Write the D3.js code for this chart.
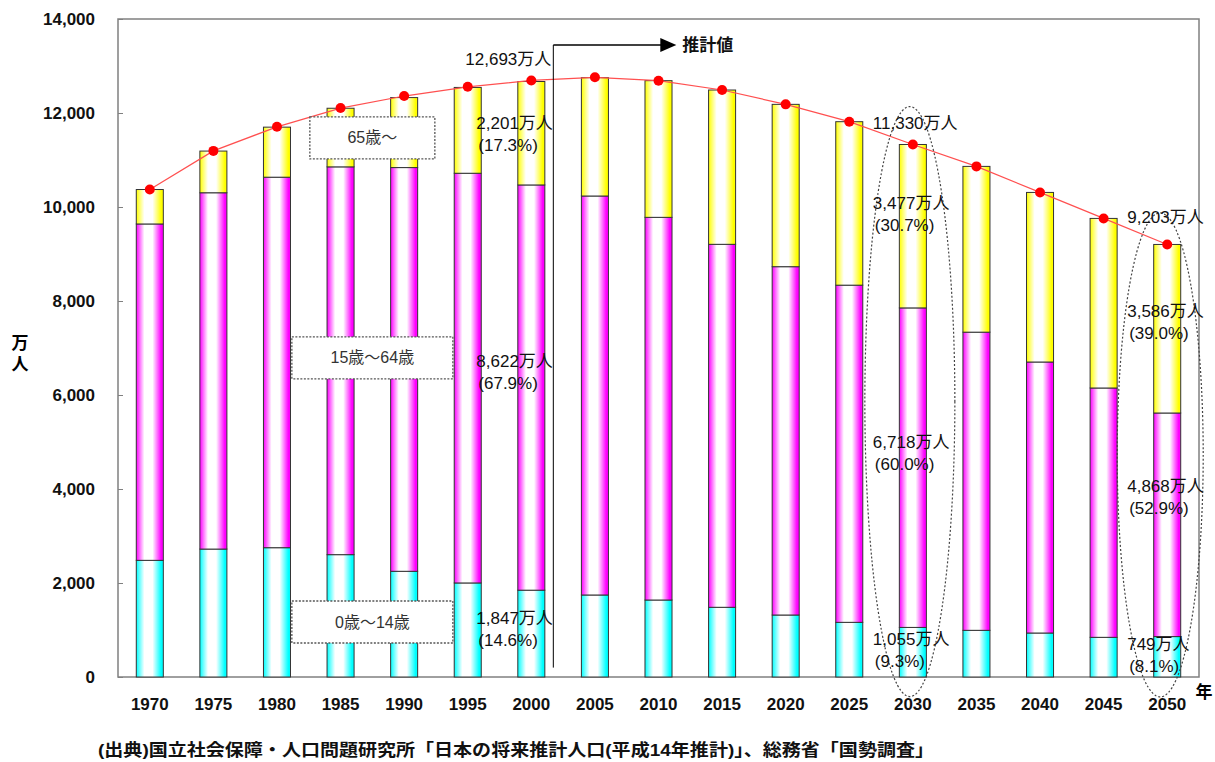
<!DOCTYPE html>
<html lang="ja">
<head>
<meta charset="UTF-8">
<title>日本の人口の推移</title>
<script src="https://d3js.org/d3.v7.min.js"></script>
<style>
  body { margin: 0; background: #fff; }
  svg { font-family: "Liberation Sans", Arial, "Noto Sans CJK JP", sans-serif; }
  .tick text { font-size: 17px; font-weight: bold; fill: #111; }
  .lbl { font-size: 17px; fill: #111; }
  .legend-text { font-size: 16px; fill: #333; }
</style>
</head>
<body>
<svg id="chart" width="1215" height="762"></svg>
<script>
// years (1970-2000 census, 2005- projection)
var years = ["1970", "1975", "1980", "1985", "1990", "1995", "2000", "2005", "2010",
             "2015", "2020", "2025", "2030", "2035", "2040", "2045", "2050"];
// 万人
var age0to14  = [2482, 2722, 2751, 2603, 2249, 2001, 1847, 1745, 1638, 1483, 1319, 1163, 1055, 993, 936, 844, 860];
var age15to64 = [7157, 7581, 7883, 8251, 8590, 8717, 8622, 8489, 8142, 7723, 7411, 7174, 6798, 6344, 5766, 5305, 4757];
var age65plus = [733, 887, 1065, 1247, 1489, 1826, 2201, 2518, 2908, 3283, 3454, 3478, 3477, 3527, 3608, 3608, 3586];
var totalPop  = [10372, 11194, 11706, 12105, 12361, 12557, 12693, 12760, 12688, 12489, 12184, 11815, 11330, 10864, 10310, 9757, 9203];
var yTicks = [0, 2000, 4000, 6000, 8000, 10000, 12000, 14000];

var seriesKeys = ["age0to14", "age15to64", "age65plus"];
var seriesColors = ["#00ffff", "#ff00ff", "#ffff00"];
var legendLabels = ["0歳～14歳", "15歳～64歳", "65歳～"];

// callouts: year, value (label centre), text lines
var callouts = [
  { year: "2000", value: 13128, lines: ["12,693万人"], anchor: "end" },
  { year: "2000", value: 11532, lines: ["2,201万人", "(17.3%)"] },
  { year: "2000", value: 6489,  lines: ["8,622万人", "(67.9%)"] },
  { year: "2000", value: 1011,  lines: ["1,847万人", "(14.6%)"] },
  { year: "2030", value: 11787, lines: ["11,330万人"] },
  { year: "2030", value: 9840,  lines: ["3,477万人", "(30.7%)"] },
  { year: "2030", value: 4755,  lines: ["6,718万人", "(60.0%)"] },
  { year: "2030", value: 564,   lines: ["1,055万人", "(9.3%)"] },
  { year: "2050", value: 9787,  lines: ["9,203万人"] },
  { year: "2050", value: 7532,  lines: ["3,586万人", "(39.0%)"] },
  { year: "2050", value: 3809,  lines: ["4,868万人", "(52.9%)"] },
  { year: "2050", value: 447,   lines: ["749万人", "(8.1%)"] }
];

var svg = d3.select("#chart");
var plotLeft = 118, plotRight = 1199, plotTop = 19, plotBottom = 677;

var x = d3.scaleBand().domain(years).range([plotLeft, plotRight]).paddingInner(0.575).paddingOuter(0.2875);
var y = d3.scaleLinear().domain([0, 14000]).range([plotBottom, plotTop]);
var cx = function(yr) { return x(yr) + x.bandwidth() / 2; };

// gradients: colour at the edges, white in the middle
var defs = svg.append("defs");
seriesColors.forEach(function(c, i) {
  var g = defs.append("linearGradient").attr("id", "grad" + i);
  g.append("stop").attr("offset", "0%").attr("stop-color", c);
  g.append("stop").attr("offset", "30%").attr("stop-color", "#fff");
  g.append("stop").attr("offset", "60%").attr("stop-color", "#fff");
  g.append("stop").attr("offset", "92%").attr("stop-color", c);
  g.append("stop").attr("offset", "100%").attr("stop-color", c);
});

// frame
svg.append("rect")
  .attr("x", plotLeft).attr("y", plotTop)
  .attr("width", plotRight - plotLeft).attr("height", plotBottom - plotTop)
  .attr("fill", "none").attr("stroke", "#808080").attr("stroke-width", 1.5);

// stacked bars
var rows = years.map(function(yr, i) {
  return { year: yr, age0to14: age0to14[i], age15to64: age15to64[i], age65plus: age65plus[i] };
});
var stacked = d3.stack().keys(seriesKeys)(rows);

svg.append("g").selectAll("g")
  .data(stacked)
  .enter().append("g")
  .attr("fill", function(d, i) { return "url(#grad" + i + ")"; })
  .selectAll("rect")
  .data(function(d) { return d; })
  .enter().append("rect")
  .attr("x", function(d) { return x(d.data.year); })
  .attr("y", function(d) { return y(d[1]); })
  .attr("width", x.bandwidth())
  .attr("height", function(d) { return y(d[0]) - y(d[1]); })
  .attr("stroke", "#333")
  .attr("stroke-width", 1);

// axes
var yAxis = svg.append("g")
  .attr("transform", "translate(" + plotLeft + ",0)")
  .call(d3.axisLeft(y).tickValues(yTicks).tickSize(-5).tickPadding(23).tickFormat(d3.format(",")));
yAxis.select(".domain").remove();
yAxis.selectAll(".tick line").attr("stroke", "#808080");

var xAxis = svg.append("g")
  .attr("transform", "translate(0," + plotBottom + ")")
  .call(d3.axisBottom(x).tickSize(0).tickPadding(21));
xAxis.select(".domain").remove();

// total line
var line = d3.line()
  .x(function(d, i) { return cx(years[i]); })
  .y(function(d) { return y(d); });
svg.append("path")
  .datum(totalPop)
  .attr("d", line)
  .attr("fill", "none")
  .attr("stroke", "#ff5050")
  .attr("stroke-width", 1.2);
svg.append("g").selectAll("circle")
  .data(totalPop)
  .enter().append("circle")
  .attr("cx", function(d, i) { return cx(years[i]); })
  .attr("cy", function(d) { return y(d); })
  .attr("r", 5)
  .attr("fill", "#ff0000");

// legend boxes between 1985 and 1990
var legendX = (cx("1985") + cx("1990")) / 2;
var legendMid = [1170, 6790, 11470];
var legendW = [161, 161, 125];
legendLabels.forEach(function(t, i) {
  var ly = y(legendMid[i]);
  svg.append("rect")
    .attr("x", legendX - legendW[i] / 2).attr("y", ly - 21)
    .attr("width", legendW[i]).attr("height", 42)
    .attr("fill", "#fff").attr("stroke", "#555")
    .attr("stroke-width", 1.3).attr("stroke-dasharray", "2,1.5");
  svg.append("text").attr("class", "legend-text")
    .attr("x", legendX).attr("y", ly)
    .attr("text-anchor", "middle").attr("dominant-baseline", "central")
    .text(t);
});

// dotted ellipses around 2030 and 2050
svg.append("ellipse")
  .attr("cx", cx("2030") - 3).attr("cy", y(5860))
  .attr("rx", 45).attr("ry", 295)
  .attr("fill", "none").attr("stroke", "#444").attr("stroke-width", 1.2).attr("stroke-dasharray", "2,2");
svg.append("ellipse")
  .attr("cx", cx("2050") - 7).attr("cy", y(4725))
  .attr("rx", 43).attr("ry", 242)
  .attr("fill", "none").attr("stroke", "#444").attr("stroke-width", 1.2).attr("stroke-dasharray", "2,2");

// callout labels
callouts.forEach(function(c) {
  var n = c.lines.length;
  var startX = c.anchor === "end" ? cx(c.year) + 20 : cx(c.year) - 40 - (c.year === "2000" ? 15 : 0);
  var t = svg.append("text").attr("class", "lbl")
    .attr("text-anchor", c.anchor || "start");
  c.lines.forEach(function(s, j) {
    t.append("tspan")
      .attr("x", startX + (j > 0 ? 2 : 0))
      .attr("y", y(c.value) + (j - (n - 1) / 2) * 22)
      .attr("dominant-baseline", "central")
      .text(s);
  });
});

// projection marker
var px = cx("2000") + 22;
svg.append("line")
  .attr("x1", px).attr("x2", px).attr("y1", 45).attr("y2", y(200))
  .attr("stroke", "#000").attr("stroke-width", 1);
svg.append("line")
  .attr("x1", px).attr("x2", px + 108).attr("y1", 45).attr("y2", 45)
  .attr("stroke", "#000").attr("stroke-width", 1.5);
svg.append("path")
  .attr("d", "M" + (px + 107) + ",38L" + (px + 123) + ",45L" + (px + 107) + ",52Z")
  .attr("fill", "#000");
svg.append("text")
  .attr("x", px + 129).attr("y", 45)
  .attr("dominant-baseline", "central")
  .style("font-size", "17px").style("font-weight", "bold").attr("fill", "#111")
  .text("推計値");

// axis titles
svg.append("text").attr("x", 20).attr("y", 343)
  .attr("text-anchor", "middle").attr("dominant-baseline", "central")
  .style("font-size", "17px").style("font-weight", "bold").text("万");
svg.append("text").attr("x", 20).attr("y", 364)
  .attr("text-anchor", "middle").attr("dominant-baseline", "central")
  .style("font-size", "17px").style("font-weight", "bold").text("人");
svg.append("text").attr("x", 1204).attr("y", 692)
  .attr("text-anchor", "middle").attr("dominant-baseline", "central")
  .style("font-size", "17px").style("font-weight", "bold").text("年");

// source
svg.append("text")
  .attr("x", 98).attr("y", 750)
  .attr("dominant-baseline", "central")
  .attr("textLength", 836).attr("lengthAdjust", "spacingAndGlyphs")
  .style("font-size", "17px").style("font-weight", "bold").attr("fill", "#111")
  .text("(出典)国立社会保障・人口問題研究所「日本の将来推計人口(平成14年推計)」、総務省「国勢調査」");
</script>
</body>
</html>
